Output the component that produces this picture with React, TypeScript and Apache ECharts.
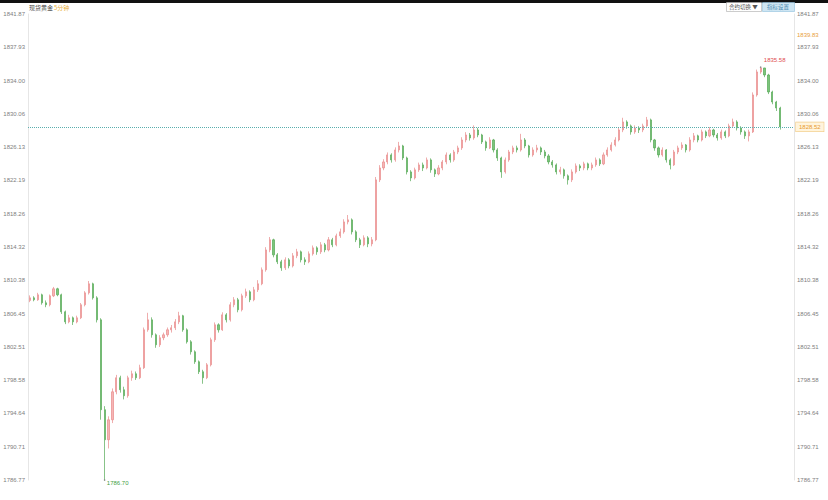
import React, { useEffect, useRef } from 'react';
import * as echarts from 'echarts';

// [open, close, lowest, highest]
const candles: number[][] = [
  [1808.0, 1808.31, 1807.8, 1808.6], [1808.31, 1808.08, 1807.9, 1808.5], [1808.08, 1808.67, 1807.95, 1808.9],
  [1808.67, 1807.72, 1807.5, 1808.8], [1807.72, 1807.49, 1807.2, 1808.0], [1807.49, 1808.55, 1807.3, 1808.7],
  [1808.55, 1809.38, 1808.4, 1809.6], [1809.38, 1808.67, 1808.5, 1809.5], [1808.67, 1806.66, 1806.4, 1808.8],
  [1806.66, 1805.47, 1805.2, 1806.8], [1805.47, 1805.95, 1805.3, 1806.3], [1805.95, 1805.47, 1805.1, 1806.1],
  [1805.47, 1805.95, 1805.3, 1806.2], [1805.95, 1807.49, 1805.8, 1807.7], [1807.49, 1808.9, 1807.3, 1809.1],
  [1808.9, 1809.97, 1808.7, 1810.3], [1809.97, 1808.31, 1808.1, 1810.1], [1808.31, 1805.71, 1805.4, 1808.5],
  [1805.71, 1795.08, 1793.9, 1805.9], [1795.08, 1791.53, 1786.7, 1795.5], [1791.53, 1793.89, 1790.5, 1794.3],
  [1793.89, 1797.2, 1793.5, 1797.6], [1797.2, 1798.86, 1796.9, 1799.2], [1798.86, 1797.44, 1797.1, 1799.1],
  [1797.44, 1796.73, 1796.3, 1797.8], [1796.73, 1798.86, 1796.5, 1799.1], [1798.86, 1799.33, 1798.5, 1799.7],
  [1799.33, 1798.86, 1798.6, 1799.6], [1798.86, 1800.04, 1798.7, 1800.4], [1800.04, 1804.53, 1799.9, 1804.8],
  [1804.53, 1805.71, 1804.3, 1806.54], [1805.71, 1803.94, 1803.6, 1806.0], [1803.94, 1802.76, 1802.4, 1804.1],
  [1802.76, 1803.59, 1802.5, 1803.9], [1803.59, 1803.94, 1803.3, 1804.2], [1803.94, 1804.53, 1803.7, 1804.8],
  [1804.53, 1804.77, 1804.2, 1805.1], [1804.77, 1805.47, 1804.5, 1805.8], [1805.47, 1806.19, 1805.2, 1806.66],
  [1806.19, 1804.53, 1804.3, 1806.3], [1804.53, 1803.11, 1802.9, 1804.7], [1803.11, 1801.93, 1801.6, 1803.3],
  [1801.93, 1800.75, 1800.5, 1802.1], [1800.75, 1799.57, 1799.3, 1800.9], [1799.57, 1798.86, 1798.15, 1799.8],
  [1798.86, 1800.39, 1798.7, 1800.6], [1800.39, 1803.35, 1800.2, 1803.6], [1803.35, 1805.12, 1803.1, 1805.4],
  [1805.12, 1804.53, 1804.2, 1805.3], [1804.53, 1806.3, 1804.4, 1806.6], [1806.3, 1805.71, 1805.4, 1806.5],
  [1805.71, 1807.49, 1805.5, 1807.8], [1807.49, 1808.08, 1807.2, 1808.4], [1808.08, 1806.9, 1806.6, 1808.3],
  [1806.9, 1808.55, 1806.7, 1808.8], [1808.55, 1809.02, 1808.3, 1809.4], [1809.02, 1808.08, 1807.8, 1809.2],
  [1808.08, 1809.26, 1807.9, 1809.6], [1809.26, 1809.97, 1809.0, 1810.4], [1809.97, 1811.62, 1809.8, 1811.9],
  [1811.62, 1813.98, 1811.4, 1814.3], [1813.98, 1815.17, 1813.7, 1815.5], [1815.17, 1813.39, 1813.1, 1815.3],
  [1813.39, 1812.57, 1812.3, 1813.6], [1812.57, 1811.86, 1811.5, 1812.8], [1811.86, 1812.8, 1811.6, 1813.1],
  [1812.8, 1812.09, 1811.8, 1813.0], [1812.09, 1813.28, 1811.9, 1813.6], [1813.28, 1813.75, 1813.0, 1814.1],
  [1813.75, 1812.8, 1812.5, 1813.9], [1812.8, 1812.57, 1812.2, 1813.1], [1812.57, 1813.51, 1812.4, 1813.8],
  [1813.51, 1814.22, 1813.3, 1814.5], [1814.22, 1813.75, 1813.4, 1814.4], [1813.75, 1814.58, 1813.5, 1814.9],
  [1814.58, 1813.98, 1813.7, 1814.8], [1813.98, 1815.17, 1813.8, 1815.5], [1815.17, 1814.58, 1814.3, 1815.4],
  [1814.58, 1815.64, 1814.4, 1815.9], [1815.64, 1816.11, 1815.4, 1816.5], [1816.11, 1817.29, 1815.9, 1817.6],
  [1817.29, 1817.53, 1817.0, 1818.1], [1817.53, 1816.11, 1815.8, 1817.7], [1816.11, 1815.17, 1814.9, 1816.3],
  [1815.17, 1814.58, 1814.2, 1815.4], [1814.58, 1815.4, 1814.4, 1815.7], [1815.4, 1814.69, 1814.3, 1815.6],
  [1814.69, 1815.17, 1814.4, 1815.5], [1815.17, 1822.26, 1815.0, 1822.6], [1822.26, 1823.67, 1822.0, 1824.0],
  [1823.67, 1824.38, 1823.4, 1824.7], [1824.38, 1825.21, 1824.1, 1825.5], [1825.21, 1824.62, 1824.3, 1825.4],
  [1824.62, 1825.8, 1824.4, 1826.1], [1825.8, 1826.27, 1825.5, 1826.75], [1826.27, 1824.85, 1824.6, 1826.4],
  [1824.85, 1823.2, 1822.9, 1825.0], [1823.2, 1822.49, 1822.1, 1823.4], [1822.49, 1823.44, 1822.3, 1823.7],
  [1823.44, 1824.03, 1823.2, 1824.3], [1824.03, 1823.67, 1823.3, 1824.3], [1823.67, 1824.62, 1823.5, 1824.9],
  [1824.62, 1823.44, 1823.1, 1824.8], [1823.44, 1822.96, 1822.6, 1823.6], [1822.96, 1823.67, 1822.8, 1824.0],
  [1823.67, 1824.38, 1823.4, 1824.6], [1824.38, 1825.21, 1824.1, 1825.5], [1825.21, 1824.62, 1824.3, 1825.4],
  [1824.62, 1825.56, 1824.4, 1825.8], [1825.56, 1826.04, 1825.3, 1826.3], [1826.04, 1826.98, 1825.8, 1827.3],
  [1826.98, 1827.57, 1826.7, 1827.9], [1827.57, 1827.22, 1826.9, 1827.8], [1827.22, 1828.16, 1827.0, 1828.7],
  [1828.16, 1827.57, 1827.3, 1828.4], [1827.57, 1826.75, 1826.5, 1827.7], [1826.75, 1826.04, 1825.7, 1826.9],
  [1826.04, 1826.98, 1825.9, 1827.3], [1826.98, 1825.8, 1825.5, 1827.1], [1825.8, 1824.85, 1824.5, 1826.0],
  [1824.85, 1823.2, 1822.5, 1825.0], [1823.2, 1824.62, 1823.0, 1824.9], [1824.62, 1825.56, 1824.4, 1825.8],
  [1825.56, 1826.04, 1825.3, 1826.3], [1826.04, 1825.8, 1825.5, 1826.3], [1825.8, 1826.98, 1825.6, 1827.7],
  [1826.98, 1826.27, 1826.0, 1827.2], [1826.27, 1825.21, 1824.9, 1826.4], [1825.21, 1825.8, 1825.0, 1826.1],
  [1825.8, 1826.04, 1825.5, 1826.4], [1826.04, 1825.56, 1825.2, 1826.2], [1825.56, 1825.09, 1824.8, 1825.8],
  [1825.09, 1824.38, 1824.1, 1825.3], [1824.38, 1824.03, 1823.7, 1824.6], [1824.03, 1823.2, 1822.9, 1824.2],
  [1823.2, 1823.44, 1822.9, 1823.8], [1823.44, 1822.73, 1822.4, 1823.6], [1822.73, 1822.26, 1821.7, 1822.9],
  [1822.26, 1823.2, 1822.0, 1823.5], [1823.2, 1823.91, 1823.0, 1824.2], [1823.91, 1823.67, 1823.3, 1824.1],
  [1823.67, 1824.15, 1823.4, 1824.4], [1824.15, 1823.67, 1823.4, 1824.3], [1823.67, 1824.03, 1823.4, 1824.3],
  [1824.03, 1824.62, 1823.8, 1824.9], [1824.62, 1824.15, 1823.9, 1824.8], [1824.15, 1825.21, 1824.0, 1825.5],
  [1825.21, 1825.8, 1825.0, 1826.1], [1825.8, 1826.39, 1825.6, 1826.7], [1826.39, 1826.98, 1826.2, 1827.3],
  [1826.98, 1828.16, 1826.8, 1828.5], [1828.16, 1829.11, 1827.9, 1829.6], [1829.11, 1828.64, 1828.3, 1829.3],
  [1828.64, 1827.93, 1827.6, 1828.8], [1827.93, 1828.4, 1827.7, 1828.7], [1828.4, 1828.16, 1827.8, 1828.6],
  [1828.16, 1828.64, 1827.9, 1828.9], [1828.64, 1829.35, 1828.4, 1829.7], [1829.35, 1826.98, 1826.7, 1829.5],
  [1826.98, 1826.04, 1825.7, 1827.1], [1826.04, 1825.21, 1824.9, 1826.2], [1825.21, 1825.8, 1825.0, 1826.1],
  [1825.8, 1824.62, 1824.3, 1825.9], [1824.62, 1824.03, 1823.5, 1824.8], [1824.03, 1825.56, 1823.9, 1825.8],
  [1825.56, 1826.04, 1825.3, 1826.3], [1826.04, 1826.39, 1825.8, 1826.7], [1826.39, 1825.8, 1825.5, 1826.5],
  [1825.8, 1826.98, 1825.6, 1827.3], [1826.98, 1827.46, 1826.7, 1827.8], [1827.46, 1826.98, 1826.7, 1827.6],
  [1826.98, 1827.93, 1826.8, 1828.2], [1827.93, 1827.46, 1827.2, 1828.1], [1827.46, 1828.16, 1827.3, 1828.5],
  [1828.16, 1827.57, 1827.3, 1828.3], [1827.57, 1827.22, 1826.9, 1827.8], [1827.22, 1827.93, 1827.0, 1828.2],
  [1827.93, 1827.46, 1827.2, 1828.1], [1827.46, 1828.64, 1827.3, 1828.9], [1828.64, 1829.11, 1828.4, 1829.5],
  [1829.11, 1828.4, 1828.1, 1829.3], [1828.4, 1827.93, 1827.6, 1828.6], [1827.93, 1827.46, 1827.1, 1828.1],
  [1827.46, 1827.93, 1826.8, 1828.2], [1827.93, 1832.3, 1827.8, 1832.6], [1832.3, 1835.02, 1832.1, 1835.3],
  [1835.02, 1835.49, 1834.8, 1835.58], [1835.49, 1834.66, 1834.4, 1835.5], [1834.66, 1832.65, 1832.4, 1834.8],
  [1832.65, 1831.47, 1831.2, 1832.8], [1831.47, 1830.76, 1830.4, 1831.6], [1830.76, 1828.52, 1828.2, 1830.9],
];

const emptySlots = 3;
const categories: string[] = Array.from({ length: candles.length + emptySlots }, (_, i) => String(i + 1));

const axisMin = 1786.77;
const axisMax = 1841.87;
const tickCount = 14;
const lastPrice = 1828.52;
const highPrice = 1835.58;
const highIndex = 186;
const lowPrice = 1786.7;
const lowIndex = 19;
const refPrice = '1839.83';
const titleText = '现货黄金';
const titleSub = '5分钟';
const buttonText = '合约切换 ▼';
const button2Text = '指标设置';

const numFont = 'Arial, "Liberation Sans", sans-serif';
const cjkFont = '"Noto Sans CJK SC", sans-serif';

export default function App() {
  const ref = useRef<HTMLDivElement>(null);
  useEffect(() => {
    if (!ref.current) return;
    const chart = echarts.init(ref.current, undefined, { renderer: 'svg' });
    const yCommon: any = {
      type: 'value',
      min: axisMin,
      max: axisMax,
      interval: (axisMax - axisMin) / tickCount,
      splitLine: { show: false },
      axisTick: { show: false },
      axisLine: { show: true, lineStyle: { color: '#e6e6e6' } },
      axisLabel: {
        fontSize: 6,
        color: '#808080',
        margin: 3,
        fontFamily: numFont,
        showMinLabel: true,
        showMaxLabel: true,
        formatter: (v: number) => v.toFixed(2),
      },
    };
    chart.setOption({
      animation: false,
      backgroundColor: '#ffffff',
      grid: { left: 28, right: 34, top: 14, bottom: 20 },
      xAxis: {
        type: 'category',
        data: categories,
        boundaryGap: true,
        axisLine: { show: false },
        axisTick: { show: false },
        axisLabel: { show: false },
        splitLine: { show: false },
      },
      yAxis: [
        { ...yCommon, position: 'left' },
        { ...yCommon, position: 'right' },
      ],
      graphic: [
        { type: 'rect', shape: { x: 0, y: 0, width: 828, height: 3 }, style: { fill: '#111' }, silent: true },
        { type: 'text', left: 29, top: 4, style: { text: titleText, fontSize: 6, fill: '#444', fontFamily: cjkFont } },
        { type: 'text', left: 54, top: 4, style: { text: titleSub, fontSize: 6, fill: '#e8b040', fontFamily: cjkFont } },
        { type: 'rect', shape: { x: 726.5, y: 2.5, width: 35, height: 9 }, style: { fill: '#fff', stroke: '#aaa', lineWidth: 0.6 } },
        { type: 'text', left: 729, top: 4, style: { text: buttonText, fontSize: 5.5, fill: '#555', fontFamily: cjkFont } },
        { type: 'rect', shape: { x: 762.5, y: 2.5, width: 32, height: 9 }, style: { fill: '#cfe6f3', stroke: '#8fc0dc', lineWidth: 0.6 } },
        { type: 'text', left: 767, top: 4, style: { text: button2Text, fontSize: 5.5, fill: '#4a8ab0', fontFamily: cjkFont } },
        { type: 'text', left: 797, top: 32, style: { text: refPrice, fontSize: 6, fill: '#e8a040', fontFamily: numFont } },
      ],
      series: [
        {
          type: 'candlestick',
          data: candles,
          barWidth: 1.6,
          clip: false,
          itemStyle: {
            color: '#f5b5b5',
            color0: '#7cc47c',
            borderColor: '#e88a8a',
            borderColor0: '#55a955',
            borderWidth: 0.7,
          },
          markLine: {
            silent: true,
            symbol: ['none', 'none'],
            lineStyle: { color: '#5aaeae', type: 'dotted', width: 1 },
            label: {
              show: true,
              position: 'end',
              distance: 2,
              formatter: lastPrice.toFixed(2),
              fontSize: 6,
              fontFamily: numFont,
              color: '#e89a30',
              backgroundColor: '#fff4dc',
              borderColor: '#f0c880',
              borderWidth: 0.6,
              padding: [2, 3, 1, 3],
            },
            data: [{ yAxis: lastPrice }],
          },
          markPoint: {
            silent: true,
            symbol: 'circle',
            symbolSize: 1.5,
            itemStyle: { color: '#888' },
            data: [
              {
                coord: [highIndex, highPrice],
                label: { show: true, position: [4, -9], formatter: highPrice.toFixed(2), fontSize: 6, color: '#e05050', fontFamily: numFont },
              },
              {
                coord: [lowIndex, axisMin],
                label: { show: true, position: [3, 1], formatter: lowPrice.toFixed(2), fontSize: 6, color: '#3f9f3f', fontFamily: numFont },
              },
            ],
          },
        },
      ],
    });
    return () => chart.dispose();
  }, []);
  return (
    <div
      ref={ref}
      style={{ position: 'fixed', left: 0, top: 0, width: 828, height: 500, background: '#fff' }}
    />
  );
}
